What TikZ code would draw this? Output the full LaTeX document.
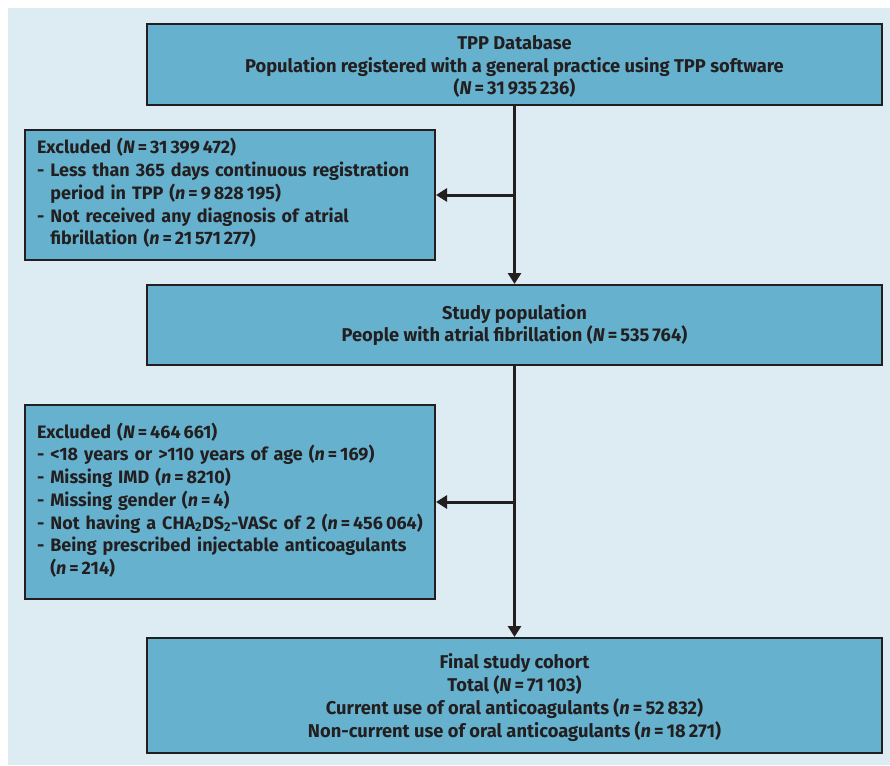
\documentclass[tikz,border=0pt]{standalone}
\usepackage{fontspec}
\setmainfont{Fira Sans}
\newfontfamily\condfont{Fira Sans}[FakeStretch=0.99]
\usetikzlibrary{arrows.meta}
\definecolor{bgblue}{RGB}{221,235,242}
\definecolor{boxblue}{RGB}{102,178,206}
\definecolor{ink}{RGB}{35,31,32}
\tikzset{
  flowbox/.style={draw=ink, line width=2pt, fill=boxblue, text=ink, inner sep=0pt, font=\condfont\bfseries\fontsize{18.5}{22.7}\selectfont, align=center},
  flowtext/.style={text=ink, inner sep=0pt, font=\condfont\bfseries\fontsize{18.5}{22.7}\selectfont, align=center},
  exbox/.style={draw=ink, line width=2pt, fill=boxblue, text=ink, inner sep=0pt, font=\bfseries\fontsize{18}{22.7}\selectfont},
  flowarrow/.style={draw=ink, line width=3pt, -{Triangle[length=11pt,width=13pt]}},
}
\begin{document}
\begin{tikzpicture}[x=1pt,y=-1pt]
\useasboundingbox (0,0) rectangle (890,765);
\fill[bgblue] (8,8) rectangle (890,765);
\node[flowbox, minimum width=735pt, minimum height=81pt] (tpp) at (514.5,64.5) {};
\node[flowtext] (tppt) at (514.5,66.5)
  {TPP Database\\Population registered with a general practice using TPP software\\(\textit{N}\,=\,31\,935\,236)};
\node[exbox, minimum width=410pt, minimum height=130pt] (ex1) at (230,195) {};
\node[exbox, anchor=west, text width=396pt, align=left, draw=none, fill=none] (ex1t) at (36,193)
  {Excluded (\textit{N}\,=\,31\,399\,472)\\
   - Less than 365 days continuous registration\\
   \hphantom{- }period in TPP (\textit{n}\,=\,9\,828\,195)\\
   - Not received any diagnosis of atrial\\
   \hphantom{- }fibrillation (\textit{n}\,=\,21\,571\,277)};
\node[flowbox, minimum width=735pt, minimum height=80pt] (study) at (514.5,325)
  {Study population\\People with atrial fibrillation (\textit{N}\,=\,535\,764)};
\node[exbox, minimum width=410pt, minimum height=194pt] (ex2) at (230,502) {};
\node[exbox, anchor=west, text width=396pt, align=left, draw=none, fill=none] (ex2t) at (36,500)
  {Excluded (\textit{N}\,=\,464\,661)\\
   - <18 years or >110 years of age (\textit{n}\,=\,169)\\
   - Missing IMD (\textit{n}\,=\,8210)\\
   - Missing gender (\textit{n}\,=\,4)\\
   - Not having a CHA\textsubscript{2}DS\textsubscript{2}-VASc of 2 (\textit{n}\,=\,456\,064)\\
   - Being prescribed injectable anticoagulants\\
   \hphantom{- }(\textit{n}\,=\,214)};
\node[flowbox, minimum width=735pt, minimum height=115pt] (final) at (514.5,695.5) {};
\node[flowtext] (finalt) at (514.5,697.5)
  {Final study cohort\\Total (\textit{N}\,=\,71\,103)\\Current use of oral anticoagulants (\textit{n}\,=\,52\,832)\\Non-current use of oral anticoagulants (\textit{n}\,=\,18\,271)};
\coordinate (j1) at (tpp.south |- ex1.east);
\coordinate (j2) at (study.south |- ex2.east);
\draw[flowarrow] (tpp.south) -- (study.north);
\draw[flowarrow] (study.south) -- (final.north);
\draw[flowarrow] (j1) -- (ex1.east);
\draw[flowarrow] (j2) -- (ex2.east);
\end{tikzpicture}
\end{document}
